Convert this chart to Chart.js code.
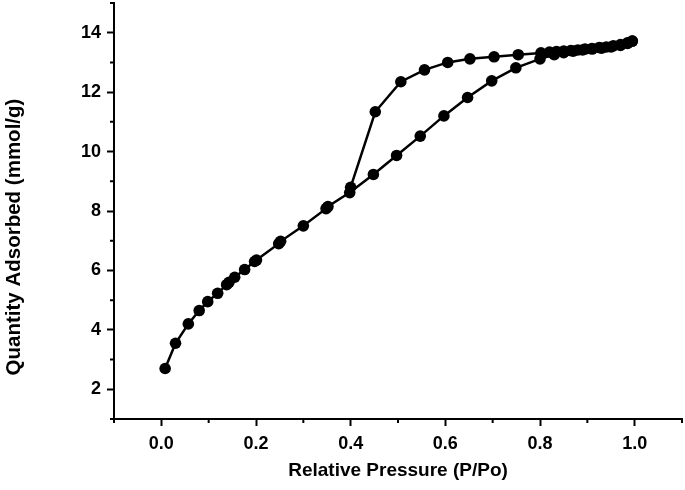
<!DOCTYPE html>
<html>
<head>
<meta charset="utf-8">
<script src="https://cdn.jsdelivr.net/npm/chart.js@4.4.1/dist/chart.umd.min.js"></script>
<style>
  html, body { margin: 0; padding: 0; background: #fff; }
  #wrap { width: 685px; height: 490px; }
</style>
</head>
<body>
<div id="wrap"><canvas id="chart"></canvas></div>
<script>
// adsorption branch
const adsX = [0.008, 0.03, 0.057, 0.08, 0.098, 0.119, 0.138, 0.143, 0.155, 0.176, 0.197, 0.201, 0.248, 0.252, 0.30, 0.348, 0.352, 0.398, 0.448, 0.497, 0.547, 0.597, 0.647, 0.698, 0.749, 0.80, 0.83, 0.85, 0.87, 0.89, 0.91, 0.93, 0.95, 0.97, 0.985, 0.995];
const adsY = [2.7, 3.55, 4.2, 4.65, 4.95, 5.23, 5.52, 5.6, 5.77, 6.03, 6.3, 6.35, 6.9, 6.98, 7.5, 8.08, 8.15, 8.62, 9.23, 9.87, 10.52, 11.2, 11.82, 12.38, 12.82, 13.12, 13.26, 13.33, 13.38, 13.42, 13.45, 13.48, 13.52, 13.57, 13.64, 13.72];

// desorption branch
const desX = [0.995, 0.985, 0.97, 0.955, 0.94, 0.925, 0.91, 0.895, 0.88, 0.865, 0.85, 0.835, 0.82, 0.802, 0.754, 0.703, 0.652, 0.605, 0.556, 0.506, 0.452, 0.40];
const desY = [13.72, 13.66, 13.6, 13.56, 13.52, 13.5, 13.47, 13.45, 13.42, 13.4, 13.38, 13.37, 13.35, 13.32, 13.26, 13.19, 13.12, 13.0, 12.75, 12.35, 11.34, 8.8];

// ticks
const xTicks = [0.0, 0.2, 0.4, 0.6, 0.8, 1.0];
const xMinor = [-0.1, 0.1, 0.3, 0.5, 0.7, 0.9, 1.1];
const yTicks = [2, 4, 6, 8, 10, 12, 14];
const yMinor = [1, 3, 5, 7, 9, 11, 13, 15];

const yTitle = 'Quantity Adsorbed (mmol/g)';

const toPoints = (xs, ys) => xs.map((x, i) => ({x: x, y: ys[i]}));

const font = 'Liberation Sans, Arial, sans-serif';

// minor ticks + y title
const extras = {
    id: 'extras',
    afterDraw(chart) {
        const ctx = chart.ctx;
        const sx = chart.scales.x;
        const sy = chart.scales.y;
        ctx.save();
        ctx.strokeStyle = '#000';
        ctx.lineWidth = 2;
        ctx.beginPath();
        xMinor.forEach(v => {
            const px = sx.getPixelForValue(v);
            ctx.moveTo(px, sx.top);
            ctx.lineTo(px, sx.top + 4);
        });
        yMinor.forEach(v => {
            const py = sy.getPixelForValue(v);
            ctx.moveTo(sy.right, py);
            ctx.lineTo(sy.right - 4, py);
        });
        ctx.stroke();

        ctx.translate(14, 237);
        ctx.rotate(-Math.PI / 2);
        ctx.fillStyle = '#000';
        ctx.font = 'bold 20.5px ' + font;
        ctx.textAlign = 'center';
        ctx.textBaseline = 'middle';
        ctx.fillText(yTitle, 0, 0);
        ctx.restore();
    }
};

const lineStyle = {
    showLine: true,
    borderColor: '#000',
    backgroundColor: '#000',
    borderWidth: 2.5,
    pointRadius: 5.8,
    pointBorderWidth: 0,
    pointBackgroundColor: '#000',
    tension: 0
};

new Chart(document.querySelector('#chart').getContext('2d'), {
    type: 'scatter',
    data: {
        datasets: [
            Object.assign({label: 'Adsorption', data: toPoints(adsX, adsY)}, lineStyle),
            Object.assign({label: 'Desorption', data: toPoints(desX, desY)}, lineStyle)
        ]
    },
    options: {
        responsive: true,
        maintainAspectRatio: false,
        animation: false,
        layout: { autoPadding: false, padding: { top: 3, right: 3, left: 0, bottom: 0 } },
        plugins: {
            legend: { display: false },
            tooltip: { enabled: false }
        },
        scales: {
            x: {
                type: 'linear',
                min: -0.1,
                max: 1.1,
                afterBuildTicks: scale => { scale.ticks = xTicks.map(v => ({value: v})); },
                afterFit: scale => { scale.height = 71; scale.paddingLeft = 0; scale.paddingRight = 0; },
                border: { color: '#000', width: 2 },
                grid: { drawOnChartArea: false, drawTicks: true, tickLength: 7, tickColor: '#000', tickWidth: 2 },
                ticks: {
                    color: '#000',
                    padding: 7,
                    font: { family: font, size: 18, weight: 'bold' },
                    callback: v => v.toFixed(1)
                },
                title: {
                    display: true,
                    text: 'Relative Pressure (P/Po)',
                    color: '#000',
                    font: { family: font, size: 19, weight: 'bold' },
                    padding: { top: 4, bottom: 8 }
                }
            },
            y: {
                type: 'linear',
                min: 1,
                max: 15,
                afterBuildTicks: scale => { scale.ticks = yTicks.map(v => ({value: v})); },
                afterFit: scale => { scale.width = 114; scale.paddingTop = 0; scale.paddingBottom = 0; },
                border: { color: '#000', width: 2 },
                grid: { drawOnChartArea: false, drawTicks: true, tickLength: 7, tickColor: '#000', tickWidth: 2 },
                ticks: {
                    color: '#000',
                    padding: 6,
                    font: { family: font, size: 18, weight: 'bold' }
                },
                title: { display: false }
            }
        }
    },
    plugins: [extras]
});
</script>
</body>
</html>
